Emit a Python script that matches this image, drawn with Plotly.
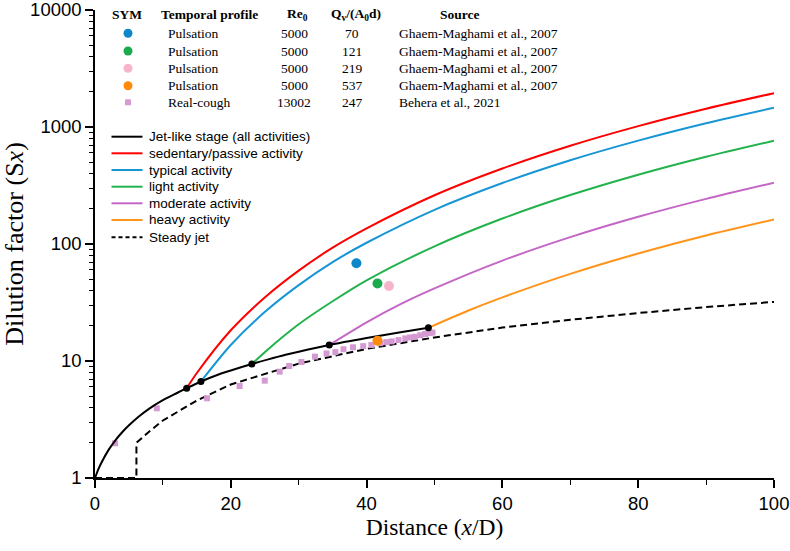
import plotly.graph_objects as go

# ---------------- data ----------------
jet_x = [0, 0.5, 1, 2, 3, 4, 5, 6.5, 8, 10, 12, 13.5, 15.6, 18, 20, 23.1, 27, 30, 34.5, 40, 45, 49.1]
jet_y = [1, 1.19, 1.37, 1.74, 2.1, 2.46, 2.82, 3.37, 3.92, 4.62, 5.3, 5.85, 6.68, 7.6, 8.3, 9.42, 10.9, 12.0, 13.7, 15.7, 17.6, 19.2]

trans_x = [13.5, 15.6, 23.1, 34.5, 49.1]
trans_y = [5.85, 6.68, 9.42, 13.7, 19.2]

sed_x = [13.5, 15, 20, 25, 30, 35, 40, 50, 60, 70, 80, 90, 100]
sed_y = [5.85, 7.9, 18.3, 34.9, 59.2, 93, 136, 261, 442, 692, 1018, 1433, 1948]

typ_x = [15.6, 20, 25, 30, 35, 40, 50, 60, 70, 80, 90, 100]
typ_y = [6.68, 13.7, 26.2, 44.5, 70, 102.5, 196, 332, 520, 765, 1077, 1461]

light_x = [23.1, 25, 30, 35, 40, 50, 60, 70, 80, 90, 100]
light_y = [9.42, 11.9, 20.6, 32.4, 48.9, 95.5, 165, 262, 391, 557, 764]

mod_x = [34.5, 40, 45, 50, 60, 70, 80, 90, 100]
mod_y = [13.7, 21.4, 30.6, 41.7, 72.1, 114.4, 170.8, 243, 334]

heavy_x = [49.1, 55, 60, 70, 80, 90, 100]
heavy_y = [19.2, 27.0, 35.0, 55.6, 83.0, 118.3, 162]

steady_x = [0, 6.1, 6.1, 8, 10, 15, 20, 30, 40, 50, 60, 70, 80, 90, 100]
steady_y = [1, 1, 2.0, 2.5, 3.1, 4.6, 6.3, 9.5, 12.7, 15.9, 19.3, 22.5, 25.7, 28.9, 32]

puls_x = [38.5, 41.6, 43.3, 41.6]
puls_y = [68.4, 46, 43.8, 14.9]
puls_colors = ["#0E87C9", "#1BAA4E", "#F7B5CD", "#FF8A0C"]

cough_x = [2.95, 9.1, 16.5, 21.3, 25.0, 27.2, 28.6, 30.4, 32.4, 34.1, 35.4, 36.6, 38.0,
           39.5, 40.7, 42.0, 42.9, 43.7, 44.7, 45.7, 46.4, 47.1, 47.9, 48.6, 49.3, 49.7]
cough_y = [1.98, 3.94, 4.80, 6.11, 6.79, 8.11, 9.06, 9.80, 10.9, 11.6, 11.9, 12.6, 13.1,
           13.4, 13.7, 14.2, 14.5, 14.7, 15.1, 15.6, 15.9, 16.1, 16.6, 17.0, 17.3, 17.5]

table_header = ["SYM", "Temporal profile", "Re<sub>0</sub>", "Q<sub>v</sub>/(A<sub>0</sub>d)", "Source"]
table_profile = ["Pulsation", "Pulsation", "Pulsation", "Pulsation", "Real-cough"]
table_re = ["5000", "5000", "5000", "5000", "13002"]
table_q = ["70", "121", "219", "537", "247"]
table_src = ["Ghaem-Maghami et al., 2007", "Ghaem-Maghami et al., 2007",
             "Ghaem-Maghami et al., 2007", "Ghaem-Maghami et al., 2007", "Behera et al., 2021"]
table_sym_colors = puls_colors + ["#D59AD2"]

legend_names = ["Jet-like stage (all activities)", "sedentary/passive activity", "typical activity",
                "light activity", "moderate activity", "heavy activity", "Steady jet"]
legend_colors = ["#000000", "#FF0000", "#1796D5", "#22B24C", "#C466C6", "#FF9419", "#000000"]

y_major = [1, 10, 100, 1000, 10000]
y_minor = [m * d for d in (1, 10, 100, 1000) for m in range(2, 10)]

# ---------------- figure ----------------
W, H = 790, 551
L, R, T, B = 95, 774, 10, 478


def pxx(x):
    return (x - L) / (R - L)


def pxy(y):
    return (B - y) / (B - T)


fig = go.Figure()

curves = [
    (sed_x, sed_y, legend_colors[1], legend_names[1]),
    (typ_x, typ_y, legend_colors[2], legend_names[2]),
    (light_x, light_y, legend_colors[3], legend_names[3]),
    (mod_x, mod_y, legend_colors[4], legend_names[4]),
    (heavy_x, heavy_y, legend_colors[5], legend_names[5]),
]
fig.add_trace(go.Scatter(x=steady_x, y=steady_y, mode="lines", name=legend_names[6],
                         line=dict(color="black", width=2, dash="7px,4px"), showlegend=False))
for xs, ys, c, n in curves:
    fig.add_trace(go.Scatter(x=xs, y=ys, mode="lines", name=n, showlegend=False,
                             line=dict(color=c, width=2, shape="spline", smoothing=0.8)))
fig.add_trace(go.Scatter(x=cough_x, y=cough_y, mode="markers", name="Real-cough", showlegend=False,
                         marker=dict(symbol="square", size=6, color="#D59AD2")))
fig.add_trace(go.Scatter(x=jet_x, y=jet_y, mode="lines", name=legend_names[0], showlegend=False,
                         line=dict(color="black", width=2, shape="spline", smoothing=0.8)))
fig.add_trace(go.Scatter(x=trans_x, y=trans_y, mode="markers", showlegend=False,
                         marker=dict(size=7, color="black")))
fig.add_trace(go.Scatter(x=puls_x, y=puls_y, mode="markers", showlegend=False,
                         marker=dict(size=10, color=puls_colors)))

annotations = []
shapes = []

serif = "Liberation Serif, Times New Roman, serif"
sans = "Liberation Sans, Arial, sans-serif"

# table header
hdr_x = [127, 209, 297, 356, 460]
for t, xc in zip(table_header, hdr_x):
    annotations.append(dict(x=pxx(xc), y=pxy(15), xref="paper", yref="paper", text="<b>" + t + "</b>",
                            showarrow=False, xanchor="center", yanchor="middle",
                            font=dict(family=serif, size=13.5, color="black")))
row_y = [33.3, 51, 68.3, 85.7, 102.3]
for i, yr in enumerate(row_y):
    annotations.append(dict(x=pxx(166), y=pxy(yr), xref="paper", yref="paper", text=table_profile[i],
                            showarrow=False, xanchor="left", yanchor="middle",
                            font=dict(family=serif, size=13.5, color="black")))
    annotations.append(dict(x=pxx(294), y=pxy(yr), xref="paper", yref="paper", text=table_re[i],
                            showarrow=False, xanchor="center", yanchor="middle",
                            font=dict(family=serif, size=13.5, color="black")))
    annotations.append(dict(x=pxx(352), y=pxy(yr), xref="paper", yref="paper", text=table_q[i],
                            showarrow=False, xanchor="center", yanchor="middle",
                            font=dict(family=serif, size=13.5, color="black")))
    annotations.append(dict(x=pxx(397), y=pxy(yr), xref="paper", yref="paper", text=table_src[i],
                            showarrow=False, xanchor="left", yanchor="middle",
                            font=dict(family=serif, size=13.5, color="black")))
    if i < 4:
        shapes.append(dict(type="circle", xref="paper", yref="paper", xsizemode="pixel", ysizemode="pixel",
                           xanchor=pxx(128), yanchor=pxy(yr), x0=-4.5, x1=4.5, y0=-4.5, y1=4.5,
                           fillcolor=table_sym_colors[i], line=dict(width=0)))
    else:
        shapes.append(dict(type="rect", xref="paper", yref="paper", xsizemode="pixel", ysizemode="pixel",
                           xanchor=pxx(128), yanchor=pxy(yr), x0=-3, x1=3, y0=-3, y1=3,
                           fillcolor=table_sym_colors[i], line=dict(width=0)))

# line legend
leg_y = [136.7, 153.3, 170, 186.7, 203.3, 220, 237.3]
for i, yr in enumerate(leg_y):
    shapes.append(dict(type="line", xref="paper", yref="paper", x0=pxx(111.5), x1=pxx(142.5),
                       y0=pxy(yr), y1=pxy(yr),
                       line=dict(color=legend_colors[i], width=2, dash="4px,3px" if i == 6 else "solid")))
    annotations.append(dict(x=pxx(146.5), y=pxy(yr), xref="paper", yref="paper", text=legend_names[i],
                            showarrow=False, xanchor="left", yanchor="middle",
                            font=dict(family=sans, size=13.5, color="black")))

fig.update_layout(
    width=W, height=H,
    margin=dict(l=L, r=W - R, t=T, b=H - B),
    paper_bgcolor="white", plot_bgcolor="white",
    showlegend=False,
    annotations=annotations, shapes=shapes,
)
fig.update_xaxes(
    range=[0, 100], dtick=20, tick0=0, showgrid=False, zeroline=False, automargin=False,
    showline=True, linecolor="black", linewidth=1.5,
    ticks="outside", ticklen=8, tickwidth=1.5, tickcolor="black", ticklabeloverflow="allow",
    minor=dict(ticks="outside", ticklen=5, dtick=10, tick0=0, tickcolor="black", tickwidth=1.2, showgrid=False),
    tickfont=dict(family=sans, size=18.5, color="black"),
    title=dict(text="Distance (<i>x</i>/D)", font=dict(family=serif, size=23.5, color="black"), standoff=6),
)
fig.update_yaxes(
    type="log", range=[0, 4], tickvals=y_major, ticktext=[str(v) for v in y_major],
    showgrid=False, zeroline=False, automargin=False,
    showline=True, linecolor="black", linewidth=1.5,
    ticks="outside", ticklen=8, tickwidth=1.5, tickcolor="black", ticklabeloverflow="allow",
    minor=dict(ticks="outside", ticklen=4, tickvals=y_minor, tickcolor="black", tickwidth=1.2, showgrid=False),
    tickfont=dict(family=sans, size=18.5, color="black"),
    title=dict(text="Dilution factor (S<i>x</i>)", font=dict(family=serif, size=26, color="black"), standoff=0),
)

fig.write_html("out.html", config={"displayModeBar": False},
               post_script="document.body.style.margin='0';")
